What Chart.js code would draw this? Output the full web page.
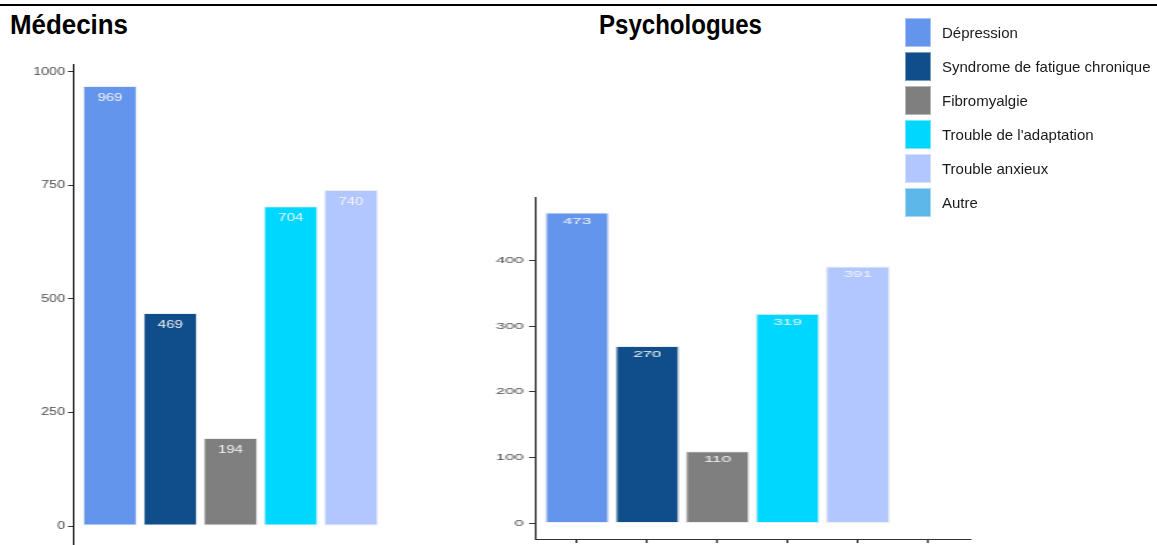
<!DOCTYPE html>
<html>
<head>
<meta charset="utf-8">
<script src="https://cdn.jsdelivr.net/npm/chart.js"></script>
<style>
  html, body { margin: 0; padding: 0; width: 1157px; height: 545px; overflow: hidden; background: #fff; font-family: "Liberation Sans", Arial, sans-serif; }
  #topline { position: absolute; left: 0; top: 4px; width: 1157px; height: 2px; background: #000; }
  .title { position: absolute; top: 12px; line-height: 27px; font-weight: bold; font-size: 27px; color: #000; transform-origin: 0 0; white-space: nowrap; }
  canvas { position: absolute; top: 0; transform-origin: 0 0; }
  #legend { position: absolute; left: 905px; top: 18px; }
  .item { height: 29px; margin-bottom: 5px; display: flex; align-items: center; }
  .swatch { width: 26px; height: 29px; margin-right: 11px; box-sizing: border-box; border: 1px solid rgba(255,255,255,0.45); }
  .item span { font-size: 15px; color: #1a1a1a; }
</style>
</head>
<body>
<div id="topline"></div>
<div class="title" id="t1" style="left:10px">Médecins</div>
<div class="title" id="t2" style="left:599px">Psychologues</div>
<canvas id="medChart" width="330" height="580"></canvas>
<canvas id="psyChart" width="280" height="560"></canvas>
<div id="legend"></div>
<script>
const categories = ['Dépression', 'Syndrome de fatigue chronique', 'Fibromyalgie', "Trouble de l'adaptation", 'Trouble anxieux', 'Autre'];
const medecins = [969, 469, 194, 704, 740, null];
const psychologues = [473, 270, 110, 319, 391, null];
const medecinsTicks = [0, 250, 500, 750, 1000];
const psychologuesTicks = [0, 100, 200, 300, 400];
const barColors = ['#6495ED', '#104E8B', '#7F7F7F', '#00D7FF', '#B2C6FF', '#5DB7E9'];

// titres : on force la largeur du titre d'origine
[['t1', 118], ['t2', 163]].forEach(([id, w]) => {
    const el = document.getElementById(id);
    el.style.transform = 'scaleX(' + (w / el.getBoundingClientRect().width) + ')';
});

// legende
const legend = document.getElementById('legend');
categories.forEach((c, i) => {
    const item = document.createElement('div');
    item.className = 'item';
    item.innerHTML = '<div class="swatch" style="background:' + barColors[i] + '"></div><span></span>';
    item.querySelector('span').textContent = c;
    legend.appendChild(item);
});

// valeurs dans les barres
const barLabels = {
    id: 'barLabels',
    afterDatasetsDraw(chart, args, opts) {
        const ctx = chart.ctx;
        const ds = chart.data.datasets[0];
        ctx.save();
        ctx.fillStyle = '#f4f4f4';
        ctx.font = opts.size + 'px "Liberation Sans", Arial, sans-serif';
        ctx.textAlign = 'center';
        ctx.textBaseline = 'middle';
        chart.getDatasetMeta(0).data.forEach((bar, i) => {
            const v = ds.data[i].y;
            if (v == null) return;
            ctx.fillText(v, bar.x, bar.y + opts.offset);
        });
        ctx.restore();
    }
};

function drawPanel(id, values, ticks, cfg) {
    const canvas = document.getElementById(id);
    canvas.style.left = cfg.left + 'px';
    canvas.style.transform = 'scaleX(' + cfg.sx + ')';
    const maxVal = Math.max(...values.filter(v => v != null));
    const font = { family: '"Liberation Sans", Arial, sans-serif', size: cfg.font };
    return new Chart(canvas.getContext('2d'), {
        type: 'bar',
        data: {
            datasets: [{
                data: values.map((v, i) => ({ x: i, y: v })),
                backgroundColor: barColors,
                borderColor: 'rgba(235,235,235,0.85)',
                borderWidth: 1,
                borderSkipped: false,
                categoryPercentage: cfg.barPct,
                barPercentage: 1
            }]
        },
        options: {
            responsive: false,
            animation: false,
            devicePixelRatio: 1,
            layout: { padding: cfg.padding },
            plugins: {
                legend: { display: false },
                tooltip: { enabled: false },
                barLabels: { size: cfg.labelSize, offset: cfg.labelOffset }
            },
            scales: {
                x: {
                    type: 'linear',
                    offset: false,
                    min: -0.6,
                    max: categories.length - 0.4,
                    afterBuildTicks: s => { s.ticks = categories.map((c, i) => ({ value: i })); },
                    afterFit: s => { s.height = cfg.xHeight; },
                    border: { display: true, color: cfg.axisColor, width: 1 },
                    grid: { offset: false, drawOnChartArea: false, tickLength: 4, color: '#333', lineWidth: 1 },
                    ticks: { display: false }
                },
                y: {
                    min: -maxVal * 0.05,
                    max: maxVal * 1.05,
                    afterBuildTicks: s => { s.ticks = ticks.map(v => ({ value: v })); },
                    afterFit: s => { s.width = cfg.yWidth; },
                    border: { display: true, color: cfg.axisColor, width: 1 },
                    grid: { drawOnChartArea: false, tickLength: cfg.tickLen, color: '#333', lineWidth: 1 },
                    ticks: { color: '#4D4D4D', padding: cfg.pad, font: font, callback: v => String(v) }
                }
            }
        },
        plugins: [barLabels]
    });
}

drawPanel('medChart', medecins, medecinsTicks, {
    left: 0, sx: 1.43, font: 10, labelSize: 10.5, labelOffset: 12, barPct: 0.9,
    padding: { top: 64, right: 330 - 447.4 / 1.43, bottom: 12, left: 0 },
    yWidth: 73.85 / 1.43, xHeight: 20, tickLen: 4.2, pad: 2, axisColor: '#111'
});

drawPanel('psyChart', psychologues, psychologuesTicks, {
    left: 470, sx: 1.85, font: 9, labelSize: 9.2, labelOffset: 8.5, barPct: 0.92,
    padding: { top: 197, right: 280 - 500 / 1.85, bottom: 7, left: 0 },
    yWidth: 65 / 1.85, xHeight: 14, tickLen: 3.3, pad: 2.9, axisColor: '#333'
});
</script>
</body>
</html>
